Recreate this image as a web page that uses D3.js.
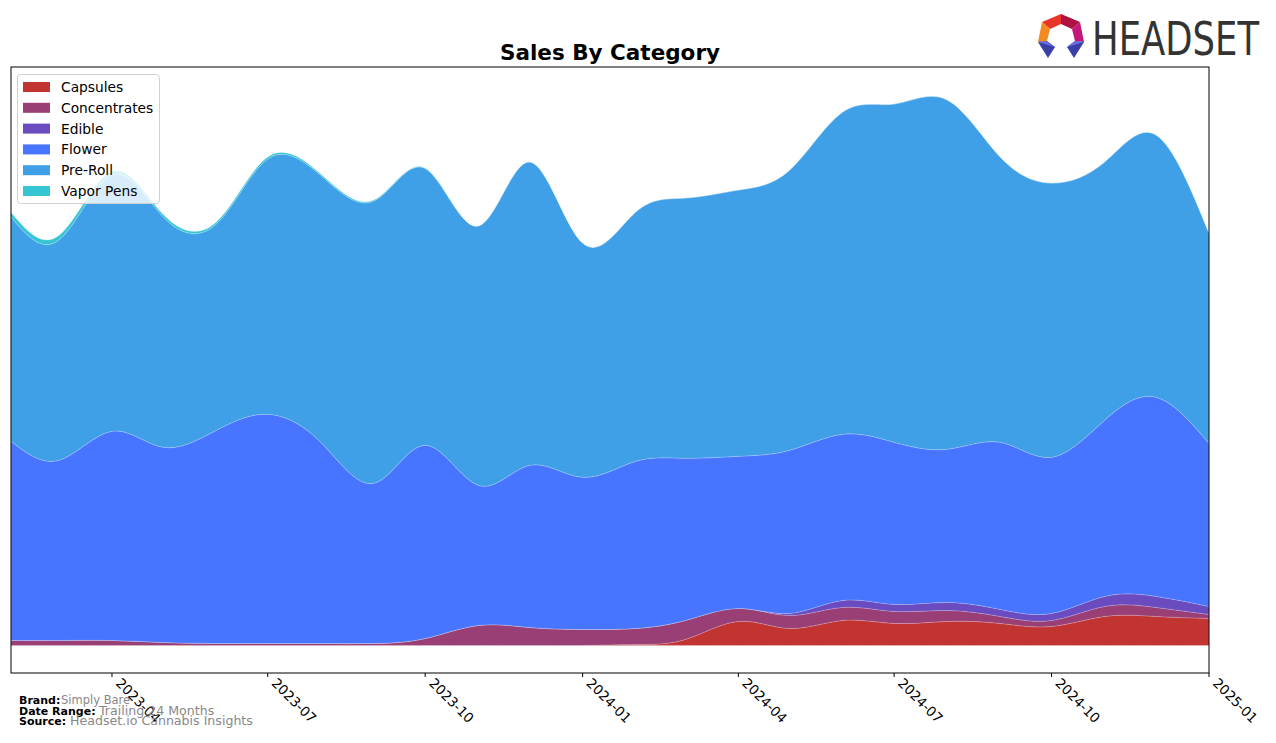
<!DOCTYPE html>
<html><head><meta charset="utf-8">
<script src="https://cdn.jsdelivr.net/npm/d3@7"></script>
<style>body{margin:0;background:#fff;}svg{display:block;font-family:"DejaVu Sans",sans-serif;}</style>
</head><body><svg id="c" width="1276" height="743"></svg>
<script>
const months = ["2023-02","2023-03","2023-04","2023-05","2023-06","2023-07","2023-08","2023-09","2023-10","2023-11","2023-12","2024-01",
                "2024-02","2024-03","2024-04","2024-05","2024-06","2024-07","2024-08","2024-09","2024-10","2024-11","2024-12","2025-01"];
const categories = ["Capsules","Concentrates","Edible","Flower","Pre-Roll","Vapor Pens"];
const capsules     = [0,0,0,0,0,0,0,0,0,0,0,0, 0.2,1.2,4.8,3.4,5.0,4.4,4.8,4.4,3.8,5.8,5.8,5.4];
const concentrates = [1.0,1.0,1.0,0.6,0.4,0.4,0.4,0.4,1.4,4.0,3.6,3.2, 3.2,3.8,2.6,2.6,2.6,2.4,2.2,1.4,1.2,2.0,1.8,0.8];
const edible       = [0,0,0,0,0,0,0,0,0,0,0,0, 0,0,0,0.4,1.4,1.4,1.6,1.4,1.4,2.0,2.2,1.6];
const flower       = [39.8,36.0,41.8,39.0,42.6,45.8,40.2,32.0,38.6,28.0,32.4,30.4, 33.4,32.4,30.4,32.6,33.2,32.4,30.6,33.4,31.2,35.2,39.8,32.6];
const preRoll      = [44.8,44.0,51.2,46.0,41.2,51.0,53.3,56.4,55.3,51.8,60.6,46.8, 49.8,52.0,53.2,56.0,64.4,67.6,69.8,57.0,54.8,51.6,52.4,42.0];
const vaporPens    = [0.9,0.9,0.7,0.5,0.4,0.4,0.3,0.2,0.1,0,0,0, 0,0,0,0,0,0,0,0,0,0,0,0];
const tickLabels   = ["2023-04","2023-07","2023-10","2024-01","2024-04","2024-07","2024-10","2025-01"];
const colors = ["#c23432","#993f75","#6a4bc0","#4775ff","#3fa0e8","#36c5d3"];

const series = [capsules,concentrates,edible,flower,preRoll,vaporPens];
const parse = d3.timeParse("%Y-%m");
const rows = months.map((m,i)=>{const r={date:parse(m)};categories.forEach((c,k)=>r[c]=series[k][i]);return r;});

const svg = d3.select("#c");
const L=11,R=1209,T=67,B=673;
const x = d3.scaleTime().domain([parse(months[0]),parse(months[months.length-1])]).range([L,R]);
const totals = rows.map(r=>d3.sum(categories,c=>r[c]));
const m = d3.max(totals)*1.01;
const y = d3.scaleLinear().domain([-0.05*m,1.05*m]).range([B,T]);

const stack = d3.stack().keys(categories)(rows);
const area = d3.area().x(d=>x(d.data.date)).y0(d=>y(d[0])).y1(d=>y(d[1])).curve(d3.curveNatural);

svg.append("defs").append("clipPath").attr("id","clip").append("rect").attr("x",L).attr("y",T).attr("width",R-L).attr("height",B-T);
svg.append("g").attr("clip-path","url(#clip)").selectAll("path").data(stack).join("path")
  .attr("d",area).attr("fill",(d,i)=>colors[i])
  .attr("stroke","rgba(255,255,255,0.3)").attr("stroke-width",0.6);

// frame
svg.append("rect").attr("x",L).attr("y",T).attr("width",R-L).attr("height",B-T)
  .attr("fill","none").attr("stroke","#000").attr("stroke-width",1);

// x axis
const ax = svg.append("g").attr("transform",`translate(0,${B})`);
tickLabels.forEach(t=>{
  const px = x(parse(t));
  ax.append("line").attr("x1",px).attr("x2",px).attr("y1",0).attr("y2",4).attr("stroke","#000");
  ax.append("text").attr("transform",`translate(${px+3},${11}) rotate(45)`)
    .attr("font-size",13.5).attr("fill","#000").text(t);
});

// title
svg.append("text").attr("x",610).attr("y",60).attr("text-anchor","middle")
  .attr("font-size",21.5).attr("font-weight","bold").text("Sales By Category");

// legend
const lg = svg.append("g");
lg.append("rect").attr("x",17.5).attr("y",74.5).attr("width",142).attr("height",129).attr("rx",3)
  .attr("fill","rgba(255,255,255,0.8)").attr("stroke","#d0d0d0");
categories.forEach((c,i)=>{
  const cy = 87 + i*20.8;
  lg.append("rect").attr("x",23).attr("y",cy-5).attr("width",27).attr("height",10).attr("fill",colors[i]);
  lg.append("text").attr("x",61).attr("y",cy+5).attr("font-size",13.8).attr("fill","#000").text(c);
});

// footer
const ft = [["Brand:","Simply Bare",61,704,11.5],["Date Range:","Trailing 24 Months",99,714.5,12.6],["Source:","Headset.io Cannabis Insights",70,724.5,12.6]];
ft.forEach(f=>{
  svg.append("text").attr("x",19).attr("y",f[3]).attr("font-size",11).attr("font-weight","bold").text(f[0]);
  svg.append("text").attr("x",f[2]).attr("y",f[3]).attr("font-size",f[4]).attr("fill","#888").text(f[1]);
});

// logo
const lgo = svg.append("g");
const polys = [
  [[[1042,22],[1061,14],[1061,24],[1050,29]],"#e8362a"],
  [[[1061,14],[1080,22],[1072,29],[1061,24]],"#b0123f"],
  [[[1080,22],[1084,42],[1075,41],[1072,29]],"#c2187a"],
  [[[1042,22],[1050,29],[1047,41],[1038,42]],"#f28a21"],
  [[[1038,42],[1047,41],[1055,47],[1048,58]],"#3a3fa8"],
  [[[1084,42],[1075,41],[1067,47],[1074,58]],"#3a3fa8"],
  [[[1038,42],[1047,41],[1055,47]],"#6b6ee0"],
  [[[1084,42],[1075,41],[1067,47]],"#6b6ee0"]
];
polys.forEach(p=>lgo.append("polygon").attr("points",p[0].map(q=>q.join(",")).join(" ")).attr("fill",p[1]));
lgo.append("text").attr("x",1092).attr("y",55).attr("font-size",46).attr("fill","#333")
  .attr("font-family","'Liberation Sans Narrow','DejaVu Sans Condensed',sans-serif")
  .attr("textLength",167).attr("lengthAdjust","spacingAndGlyphs").text("HEADSET");
</script></body></html>
